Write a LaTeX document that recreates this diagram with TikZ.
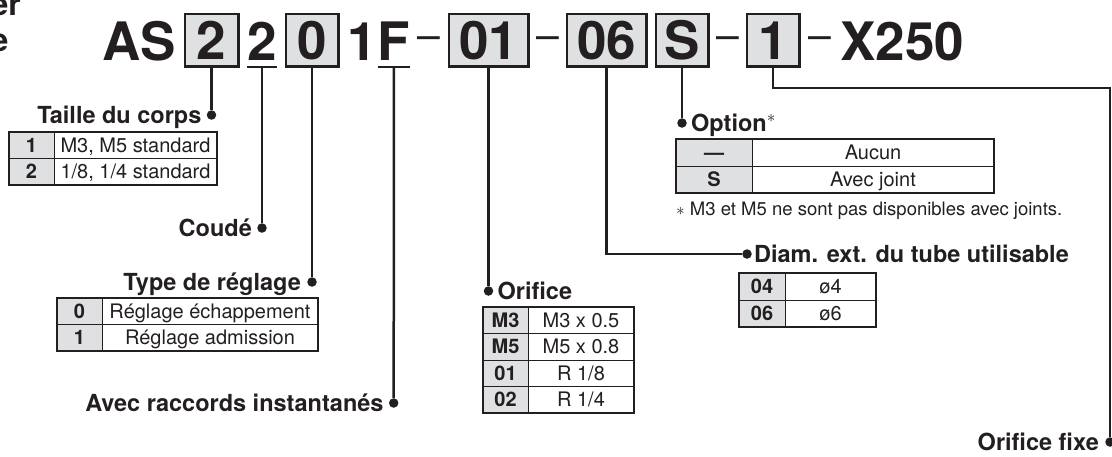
\documentclass[tikz,border=0pt]{standalone}
\usepackage{fontspec}
\setmainfont{TeX Gyre Heros}
\usetikzlibrary{positioning}
\definecolor{ink}{HTML}{231F20}
\definecolor{keygray}{HTML}{DFE0E2}
\tikzset{
  code/.style={font=\fontsize{53}{53}\selectfont\bfseries, text=ink, inner sep=0pt, anchor=base},
  codebox/.style={draw=ink, line width=2.5pt, fill=keygray, text=ink, inner sep=0pt,
    font=\fontsize{53}{53}\selectfont\bfseries, text height=38pt, text depth=0pt,
    minimum width=52.5pt, minimum height=52.5pt},
  hyph/.style={font=\fontsize{41}{41}\selectfont, text=ink, inner sep=0pt, anchor=base},
  lead/.style={draw=ink, line width=2.5pt},
  dot/.style={circle, fill=ink, inner sep=0pt, minimum size=9.5pt},
  lbl/.style={font=\fontsize{23.5}{23.5}\selectfont\bfseries, text=ink, inner sep=0pt,
    text height=17pt, text depth=0pt},
  cell/.style={font=\fontsize{20}{20}\selectfont, text=ink, inner sep=0pt,
    text height=14.4pt, text depth=0pt},
  keycell/.style={cell, font=\fontsize{20}{20}\selectfont\bfseries},
  tabrule/.style={draw=ink, line width=1pt},
  tabframe/.style={draw=ink, line width=1.5pt},
  tabtop/.style={draw=ink, line width=2.5pt},
}
\begin{document}
\begin{tikzpicture}[x=1pt,y=-1pt]
\useasboundingbox (0,0) rectangle (1112,456);
% title cut off at the left edge
\node[code, font=\fontsize{32}{32}\selectfont\bfseries, anchor=base east] (cutA) at (21,15) {er};
\node[code, font=\fontsize{32}{32}\selectfont\bfseries, anchor=base east] (cutB) at (8.5,51) {e};

% reference code
\node[code] (as) at (139,60) {AS};
\node[codebox, minimum width=53.5pt] (b1) at (211.5,40) {2};
\node[code] (u2) at (262,60) {2};
\node[codebox] (b3) at (312,40) {0};
\node[code, anchor=base east] (n1) at (377.5,60) {1};
\node[code, anchor=base west] (nF) at (377.5,60) {F};
\node[hyph] (h1) at (428.5,49.3) {–};
\node[codebox, minimum width=79.5pt] (b5) at (488.5,40) {01};
\node[hyph] (h2) at (547.5,49.3) {–};
\node[codebox, minimum width=79.5pt] (b6) at (606.5,40) {06};
\node[codebox] (b7) at (682,40) {S};
\node[hyph] (h3) at (727.5,49.3) {–};
\node[codebox] (b8) at (773,40) {1};
\node[hyph] (h4) at (820,49.3) {–};
\node[code, anchor=base west] (x250) at (840,60) {X250};

\coordinate (u2s) at ([yshift=-7pt]u2.base);
\coordinate (nFs) at ([yshift=-7pt]nF.base);
\draw[lead] ([yshift=-7pt]u2.base west) -- ([yshift=-7pt]u2.base east);
\draw[lead] ([yshift=-7pt]nF.base west) -- ([yshift=-7pt]nF.base east);

% end points
\node[dot] (dTaille) at (211.5,115) {};
\node[dot] (dCoude) at (262,228) {};
\node[dot] (dType) at (312,282) {};
\node[dot] (dAvec) at (393.7,403) {};
\node[dot] (dOrif) at (488.5,291) {};
\node[dot] (dDiam) at (747,254) {};
\node[dot] (dOption) at (682,123) {};
\node[dot] (dFixe) at (1110,442) {};
\coordinate (kFixe) at (1110,88);

\draw[lead] (b1) -- (dTaille);
\draw[lead] (u2s) -- (dCoude);
\draw[lead] (b3) -- (dType);
\draw[lead] (nFs) -- (dAvec);
\draw[lead] (b5) -- (dOrif);
\draw[lead] (b6) |- (dDiam);
\draw[lead] (b7) -- (dOption);
\draw[lead] (b8) |- (kFixe) -- (dFixe);

\node[lbl, left=5pt of dTaille] (tTaille) {Taille du corps};
\node[lbl, left=5pt of dCoude] (tCoude) {Coudé};
\node[lbl, left=6pt of dType] (tType) {Type de réglage};
\node[lbl, left=5pt of dAvec] (tAvec) {Avec raccords instantanés};
\node[lbl, right=4pt of dOrif] (tOrif) {Orifice};
\node[lbl, right=2pt of dDiam] (tDiam) {Diam. ext. du tube utilisable};
\node[lbl, right=4pt of dOption] (tOption) {Option$^{\ast}$};
\node[lbl, left=6pt of dFixe] (tFixe) {Orifice fixe};

% Taille du corps
\fill[keygray] (9,132) rectangle (54,185);
\draw[tabrule] (54,132) -- (54,185) (9,158.5) -- (217,158.5);
\draw[tabframe] (9,132) rectangle (217,185);
\draw[tabtop] (9,132) -- (217,132);
\foreach \k/\v [count=\i] in {1/{M3, M5 standard},2/{1/8, 1/4 standard}}{
  \node[keycell] (taille-k\i) at (31.5,{118.75+26.5*\i}) {\k};
  \node[cell] (taille-v\i) at (135.5,{118.75+26.5*\i}) {\v};
}

% Type de reglage
\fill[keygray] (57,298) rectangle (102,351);
\draw[tabrule] (102,298) -- (102,351) (57,324.5) -- (318,324.5);
\draw[tabframe] (57,298) rectangle (318,351);
\draw[tabtop] (57,298) -- (318,298);
\foreach \k/\v [count=\i] in {0/{Réglage échappement},1/{Réglage admission}}{
  \node[keycell] (type-k\i) at (79.5,{284.75+26.5*\i}) {\k};
  \node[cell] (type-v\i) at (210,{284.75+26.5*\i}) {\v};
}

% Orifice
\fill[keygray] (483,307) rectangle (528,413);
\draw[tabrule] (528,307) -- (528,413) (483,333.5) -- (634,333.5)
  (483,360) -- (634,360) (483,386.5) -- (634,386.5);
\draw[tabframe] (483,307) rectangle (634,413);
\draw[tabtop] (483,307) -- (634,307);
\foreach \k/\v [count=\i] in {M3/{M3 x 0.5},M5/{M5 x 0.8},01/{R 1/8},02/{R 1/4}}{
  \node[keycell] (orif-k\i) at (505.5,{293.75+26.5*\i}) {\k};
  \node[cell] (orif-v\i) at (581,{293.75+26.5*\i}) {\v};
}

% Diam. ext.
\fill[keygray] (739,273) rectangle (785,327);
\draw[tabrule] (785,273) -- (785,327) (739,300) -- (876,300);
\draw[tabframe] (739,273) rectangle (876,327);
\draw[tabtop] (739,273) -- (876,273);
\foreach \k/\v [count=\i] in {04/ø4,06/ø6}{
  \node[keycell] (diam-k\i) at (762,{259.5+27*\i}) {\k};
  \node[cell] (diam-v\i) at (830.5,{259.5+27*\i}) {\v};
}

% Option
\fill[keygray] (676,139) rectangle (752,193);
\draw[tabrule] (752,139) -- (752,193) (676,166) -- (994,166);
\draw[tabframe] (676,139) rectangle (994,193);
\draw[tabtop] (676,139) -- (994,139);
\foreach \k/\v [count=\i] in {—/Aucun,S/{Avec joint}}{
  \node[keycell] (opt-k\i) at (714,{125.5+27*\i}) {\k};
  \node[cell] (opt-v\i) at (873,{125.5+27*\i}) {\v};
}
\node[font=\fontsize{18.5}{18.5}\selectfont, text=ink, inner sep=0pt, anchor=base west] (note)
  at (676,215) {$\ast$ M3 et M5 ne sont pas disponibles avec joints.};
\end{tikzpicture}
\end{document}
